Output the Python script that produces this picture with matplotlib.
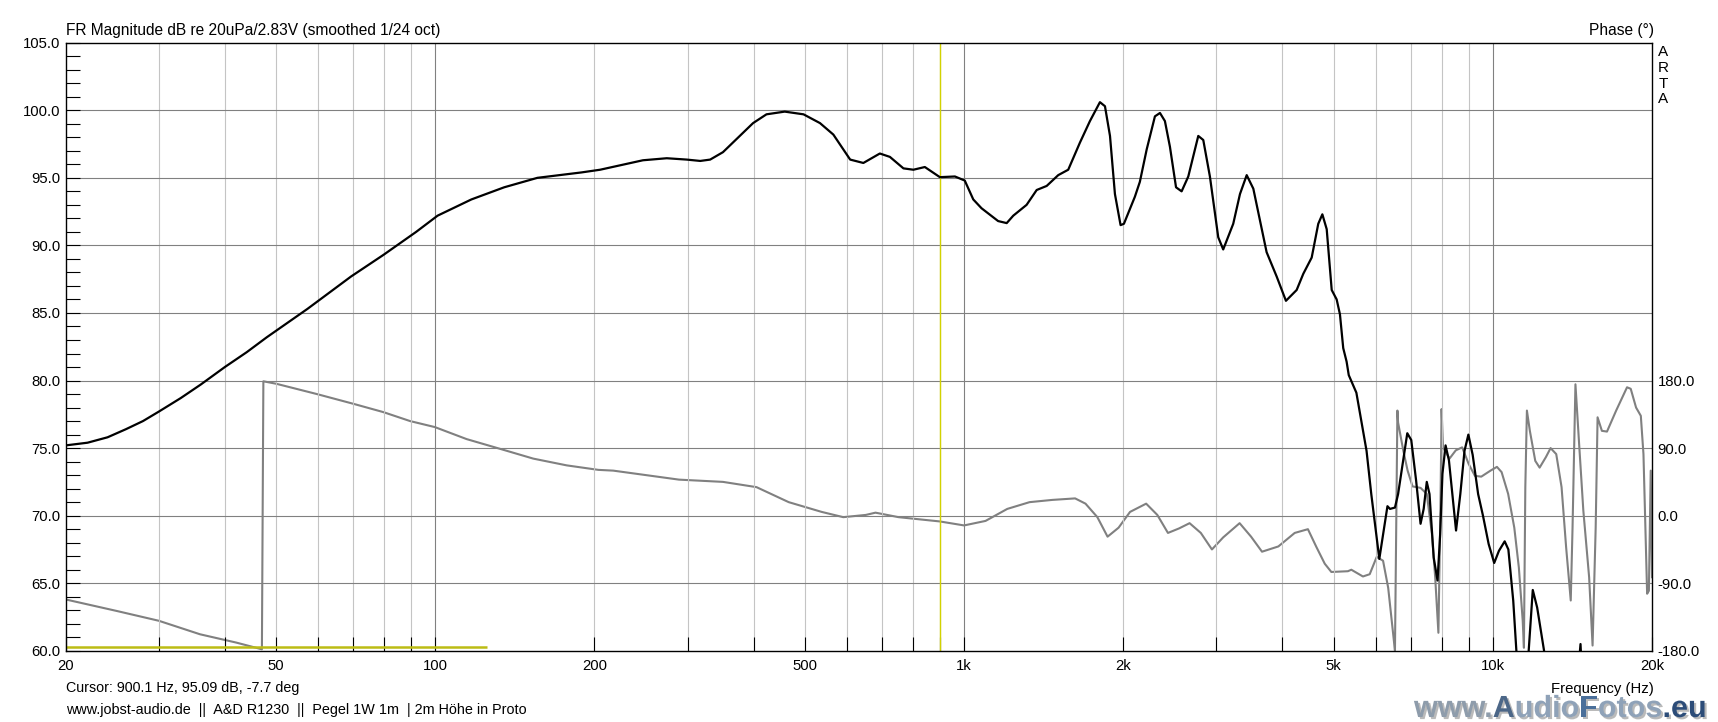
import matplotlib
matplotlib.use('Agg')
import matplotlib.pyplot as plt
import matplotlib.patheffects as pe
from matplotlib.ticker import FixedLocator, FixedFormatter, NullFormatter

plt.rcParams['font.family'] = ['Liberation Sans', 'DejaVu Sans']
plt.rcParams['font.size'] = 10.7

# SPL magnitude, smoothed 1/24 oct (Hz, dB)
mag_freq = [20, 22, 24, 26, 28, 30, 33, 36, 40, 44, 48, 57.3, 69.3, 79.8, 92, 101, 117, 135, 156,
            189, 205, 247, 274, 299, 317, 331, 350, 372, 399, 423, 458, 497, 534, 566,
            609, 645, 693, 724, 768, 802, 843, 900, 961, 1003, 1041, 1079, 1160, 1204,
            1239, 1313, 1372, 1433, 1507, 1574, 1656, 1730, 1807, 1847, 1888, 1929, 1977,
            2006, 2104, 2150, 2215, 2296, 2347, 2398, 2451, 2517, 2579, 2655, 2773, 2834,
            2917, 3025, 3091, 3229, 3325, 3424, 3524, 3734, 3901, 4062, 4256, 4381, 4544,
            4676, 4760, 4851, 4958, 5066, 5139, 5213, 5290, 5340, 5520, 5640, 5770, 5890,
            6030, 6100, 6200, 6320, 6390, 6530, 6620, 6770, 6890, 7010, 7160, 7300, 7400,
            7500, 7590, 7730, 7860, 7950, 8030, 8140, 8260, 8410, 8520, 8680, 8840, 8990,
            9160, 9380, 9580, 9820, 10060, 10270, 10530, 10700, 10930, 11080, 11400, 11690,
            11900, 12130, 12500, 12800, 14400, 14650, 14750, 15000]
mag_db = [75.2, 75.4, 75.8, 76.4, 77.0, 77.7, 78.7, 79.7, 81.0, 82.1, 83.2, 85.3, 87.7, 89.3, 91.0, 92.2, 93.4, 94.3, 95.0,
          95.4, 95.6, 96.3, 96.45, 96.35, 96.25, 96.35, 96.9, 97.9, 99.05, 99.7, 99.9, 99.7, 99.05, 98.2,
          96.35, 96.1, 96.8, 96.55, 95.7, 95.6, 95.8, 95.05, 95.1, 94.8, 93.4, 92.75, 91.8, 91.65,
          92.2, 93.0, 94.1, 94.4, 95.2, 95.6, 97.6, 99.2, 100.6, 100.3, 98.1, 93.8, 91.5,
          91.6, 93.6, 94.7, 97.1, 99.55, 99.8, 99.2, 97.3, 94.3, 94.0, 95.1, 98.1, 97.8,
          95.1, 90.6, 89.7, 91.6, 93.8, 95.2, 94.2, 89.5, 87.7, 85.9, 86.7, 87.9, 89.1,
          91.6, 92.3, 91.2, 86.7, 86.0, 84.9, 82.4, 81.4, 80.4, 79.1, 77.0, 74.8, 71.6,
          68.4, 66.8, 68.6, 70.7, 70.5, 70.6, 71.6, 74.1, 76.1, 75.6, 72.6, 69.4, 70.5,
          72.5, 71.6, 66.9, 65.2, 68.6, 73.1, 75.2, 74.1, 71.1, 68.9, 71.6, 74.8, 76.0,
          74.5, 71.6, 70.0, 67.9, 66.5, 67.4, 68.1, 67.5, 63.7, 60.0, 57.0, 60.0,
          64.5, 63.2, 60.0, 57.0, 57.0, 60.5, 58.0, 55.0]

# phase (Hz, deg)
phase_freq = [20, 25, 30, 35.9, 42, 47.0, 47.3, 50.1, 59.7, 70, 79.7, 89.6, 99.8, 114.6, 132.6,
              153.2, 177.2, 203.4, 217, 289, 350, 405, 466, 538, 591, 652, 680, 752, 900,
              1000, 1098, 1207, 1330, 1469, 1622, 1697, 1787, 1868, 1960, 2060, 2210, 2320,
              2430, 2550, 2670, 2804, 2943, 3090, 3320, 3490, 3660, 3930, 4220, 4470, 4640,
              4810, 4950, 5320, 5400, 5680, 5850, 6030, 6200, 6340, 6480, 6530, 6600, 6620,
              6770, 6900, 7050, 7300, 7500, 7670, 7780, 7890, 7960, 8000, 8050, 8280, 8510,
              8750, 9000, 9250, 9510, 9900, 10180, 10390, 10690, 10980, 11200, 11390, 11450,
              11520, 11600, 11750, 12030, 12260, 12600, 12860, 13180, 13490, 13760, 14040,
              14150, 14330, 14560, 14830, 15210, 15440, 15650, 15780, 16080, 16440, 17110,
              17940, 18230, 18660, 19050, 19270, 19580, 19730, 19890, 20000]
phase_deg = [-111.6, -127, -140, -158, -169, -178, 179, 175.6, 162, 149, 138, 126, 118, 102, 89,
             76, 67, 61, 60, 48, 45, 38, 18, 5, -2, 1, 4, -2, -7.7,
             -13, -7, 9, 18, 21, 23, 16, -2, -28, -16, 5, 16, 1,
             -23, -17, -10, -23, -45, -29, -10, -28, -48, -41, -23, -18, -42,
             -64, -75, -74, -72, -81, -78, -55, -60, -96, -158, -180, 140, 124,
             87, 60, 39, 37, 29, -24, -82, -156, 7, 142, 91, 76, 87,
             91, 69, 53, 52, 60, 65, 58, 29, -16, -69, -140, -176,
             38, 140, 113, 73, 64, 78, 90, 82, 38, -42, -113,
             -16, 175, 96, 7, -82, -173, -16, 131, 113, 112, 140,
             171, 169, 144, 133, 82, -104, -100, 60, -82]

cursor_freq = 900.1
marker_freq = [20, 125]
marker_db = [60.25, 60.25]

x_ticks = [20, 50, 100, 200, 500, 1000, 2000, 5000, 10000, 20000]
x_labels = ['20', '50', '100', '200', '500', '1k', '2k', '5k', '10k', '20k']
y_ticks = [60, 65, 70, 75, 80, 85, 90, 95, 100, 105]
phase_ticks = [-180, -90, 0, 90, 180]

W, H = 1718, 722
fig = plt.figure(figsize=(W / 100, H / 100), dpi=100)
ax = fig.add_axes([65.7 / W, 1 - 650.8 / H, (1652 - 65.7) / W, (650.8 - 42.7) / H])
ax.set_xscale('log')
ax.set_xlim(20, 20000)
ax.set_ylim(60, 105)

# grid: light lines for 2..9, darker for decades
grid_freqs = [d * m for d in (10, 100, 1000, 10000) for m in range(1, 10) if 20 < d * m < 20000]
for f in grid_freqs:
    dec = f in (100, 1000, 10000)
    ax.axvline(f, color='#808080' if dec else '#c4c4c4', lw=0.8, zorder=1)
for v in y_ticks[1:-1]:
    ax.axhline(v, color='#808080', lw=0.8, zorder=1)

ax.xaxis.set_major_locator(FixedLocator(x_ticks))
ax.xaxis.set_major_formatter(FixedFormatter(x_labels))
ax.xaxis.set_minor_locator(FixedLocator(grid_freqs))
ax.xaxis.set_minor_formatter(NullFormatter())
ax.yaxis.set_major_locator(FixedLocator(y_ticks))
ax.yaxis.set_major_formatter(FixedFormatter(['%.1f' % v for v in y_ticks]))
ax.yaxis.set_minor_locator(FixedLocator(list(range(61, 105))))
ax.tick_params(axis='both', which='both', direction='in', length=10, width=0.8,
               color='black', labelsize=10.7)
ax.tick_params(axis='x', which='both', pad=6)
ax.tick_params(axis='y', which='both', pad=4)
ax.tick_params(axis='y', which='both', right=False)
for s in ax.spines.values():
    s.set_linewidth(1.0)

# cursor and marker
ax.axvline(cursor_freq, color='#d2d200', lw=1.0, zorder=2)
ax.plot(marker_freq, marker_db, color='#bcbc14', lw=1.8, zorder=2, solid_capstyle='butt')

ax.plot(mag_freq, mag_db, color='black', lw=1.6, zorder=4)

# phase on right axis: -180..180 spans 60..80 dB
ax2 = ax.twinx()
ax2.set_ylim(-180, 630)
ax2.plot(phase_freq, phase_deg, color='#808080', lw=1.5, zorder=3)
ax2.set_yticks(phase_ticks)
ax2.set_yticklabels(['%.1f' % v for v in phase_ticks])
ax2.tick_params(axis='y', length=0, pad=4, labelsize=10.7)
ax2.set_xlim(20, 20000)
for s in ax2.spines.values():
    s.set_visible(False)
ax.set_zorder(ax2.get_zorder() + 1)
ax.patch.set_visible(False)

# labels round the plot
fig.text(65.7 / W, 1 - 31 / H, 'FR Magnitude dB re 20uPa/2.83V (smoothed 1/24 oct)',
         ha='left', va='center', fontsize=11.2)
fig.text(1654 / W, 1 - 31 / H, 'Phase (°)', ha='right', va='center', fontsize=11.2)
for i, ch in enumerate('ARTA'):
    fig.text(1663 / W, 1 - (52 + 15.8 * i) / H, ch, ha='center', va='center', fontsize=11)
fig.text(1654 / W, 1 - 689 / H, 'Frequency (Hz)', ha='right', va='center')
fig.text(65.7 / W, 1 - 688 / H, 'Cursor: 900.1 Hz, 95.09 dB, -7.7 deg', ha='left',
         va='center', fontsize=10.3)
fig.text(65.7 / W, 1 - 710 / H,
         'www.jobst-audio.de  ||  A&D R1230  ||  Pegel 1W 1m  | 2m Höhe in Proto',
         ha='left', va='center', fontsize=10.4)

# watermark
shadow = [pe.withSimplePatchShadow(offset=(1.5, -1.5), shadow_rgbFace='#777777', alpha=0.5)]
parts = [('www.', '#8e9cab'), ('A', '#4c6788'), ('udio', '#8fa2b8'),
         ('F', '#4a6f9a'), ('otos', '#8fa2b8'), ('.eu', '#2c4c78')]
prev = fig.text(1414 / W, 1 - 717 / H, parts[0][0], color=parts[0][1], fontsize=22,
                fontweight='bold', ha='left', va='baseline', path_effects=shadow)
for txt, col in parts[1:]:
    prev = plt.annotate(txt, xy=(1, 0), xycoords=prev, va='bottom', ha='left', color=col,
                        fontsize=22, fontweight='bold', path_effects=shadow,
                        annotation_clip=False)

fig.savefig('out.png', dpi=100)
